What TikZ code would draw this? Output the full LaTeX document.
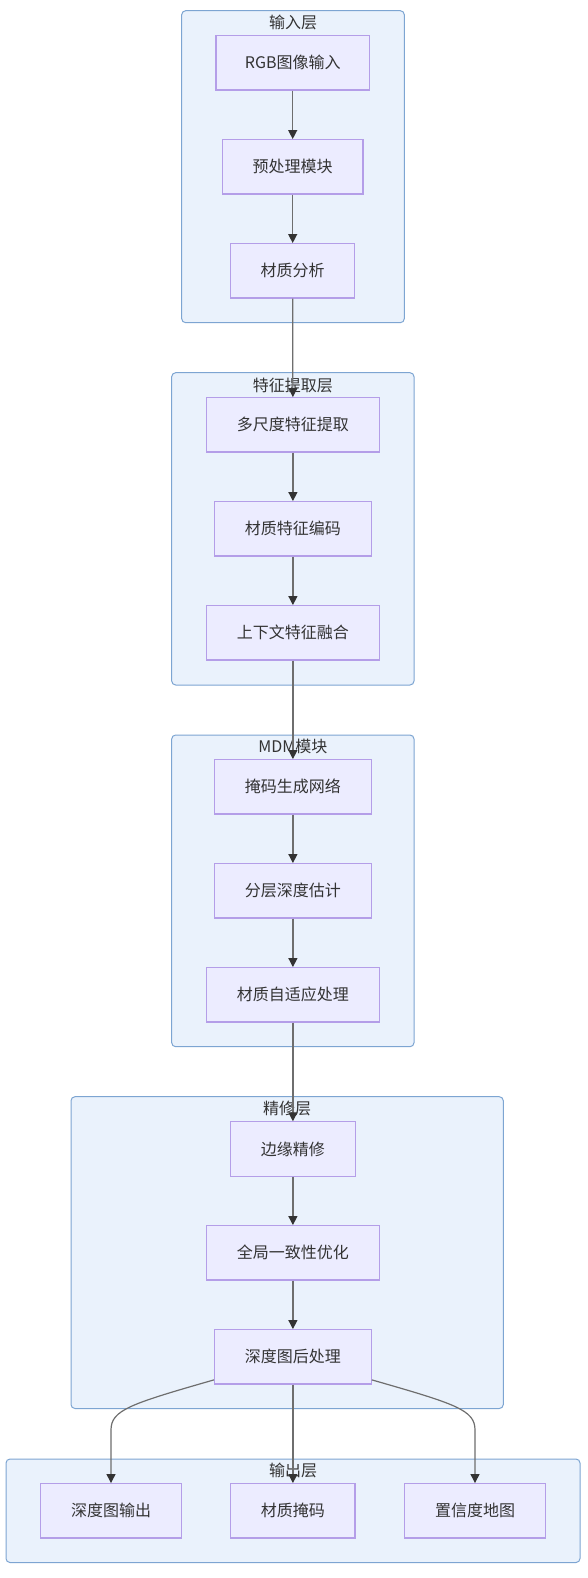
\documentclass[tikz,border=0pt]{standalone}
\usepackage{fontspec}
\setmainfont{Noto Sans CJK SC}
\usetikzlibrary{arrows.meta,calc}
\definecolor{clfill}{RGB}{234,242,252}
\definecolor{cldraw}{RGB}{125,165,210}
\definecolor{ndfill}{RGB}{236,236,255}
\definecolor{nddraw}{RGB}{180,158,232}
\definecolor{txt}{RGB}{51,51,51}
\definecolor{edge}{RGB}{110,110,110}
\definecolor{tip}{RGB}{51,51,51}
\tikzset{
  cluster/.style={draw=cldraw, fill=clfill, line width=1pt, rounded corners=4pt},
  ctitle/.style={text=txt, font=\fontsize{16}{19}\selectfont, inner sep=0pt, anchor=center},
  box/.style={draw=nddraw, fill=ndfill, line width=1.2pt, rectangle, inner sep=0pt,
    minimum height=54.3pt, text=txt, font=\fontsize{16}{19}\selectfont},
  flow/.style={draw=edge, line width=1.2pt, -{Triangle[length=9pt,width=9pt,color=tip]}},
}
\begin{document}
\begin{tikzpicture}[x=1pt,y=-1pt]
\useasboundingbox (0,0) rectangle (588,1578);
\fill[white] (0,0) rectangle (588,1578);
% clusters
\draw[cluster] (181.7,10.7) rectangle (404.3,322.7);
\draw[cluster] (171.7,372.7) rectangle (414,685);
\draw[cluster] (171.7,735) rectangle (414,1046.7);
\draw[cluster] (71,1096.7) rectangle (503.3,1408.5);
\draw[cluster] (6,1459) rectangle (580,1562.5);
\node[ctitle] (t1) at (293,22.7) {输入层};
\node[ctitle] (t2) at (292.8,385) {特征提取层};
\node[ctitle] (t3) at (292.8,746.7) {MDM模块};
\node[ctitle] (t4) at (287.2,1108.5) {精修层};
\node[ctitle] (t5) at (293,1470.7) {输出层};
% nodes
\node[box, minimum width=153.3pt] (in1) at (292.7,62.8) {RGB图像输入};
\node[box, minimum width=140.6pt] (in2) at (292.7,166.8) {预处理模块};
\node[box, minimum width=124.3pt] (in3) at (292.7,270.8) {材质分析};
\node[box, minimum width=172.6pt] (f1) at (292.9,424.8) {多尺度特征提取};
\node[box, minimum width=156.6pt] (f2) at (292.9,528.8) {材质特征编码};
\node[box, minimum width=172.6pt] (f3) at (292.9,632.8) {上下文特征融合};
\node[box, minimum width=156.6pt] (m1) at (292.9,786.8) {掩码生成网络};
\node[box, minimum width=156.6pt] (m2) at (292.9,890.8) {分层深度估计};
\node[box, minimum width=172.6pt] (m3) at (292.9,994.8) {材质自适应处理};
\node[box, minimum width=124.6pt] (r1) at (292.9,1149) {边缘精修};
\node[box, minimum width=172.6pt] (r2) at (292.9,1252.8) {全局一致性优化};
\node[box, minimum width=156.6pt] (r3) at (292.9,1356.8) {深度图后处理};
\node[box, minimum width=140.6pt] (o1) at (111,1510.8) {深度图输出};
\node[box, minimum width=124.3pt] (o2) at (292.9,1510.8) {材质掩码};
\node[box, minimum width=140.6pt] (o3) at (475,1510.8) {置信度地图};
% edges
\draw[flow] (in1) -- (in2);
\draw[flow] (in2) -- (in3);
\draw[flow] (in3) -- (f1);
\draw[flow] (f1) -- (f2);
\draw[flow] (f2) -- (f3);
\draw[flow] (f3) -- (m1);
\draw[flow] (m1) -- (m2);
\draw[flow] (m2) -- (m3);
\draw[flow] (m3) -- (r1);
\draw[flow] (r1) -- (r2);
\draw[flow] (r2) -- (r3);
\draw[flow] (r3) -- (o2);
\draw[flow] ([yshift=4.7pt]r3.south west) .. controls (130,1404) and (111,1410) .. (111,1430) -- (o1.north);
\draw[flow] ([yshift=4.7pt]r3.south east) .. controls (456,1404) and (475,1410) .. (475,1430) -- (o3.north);
% redraw nodes above edges
\end{tikzpicture}
\end{document}
